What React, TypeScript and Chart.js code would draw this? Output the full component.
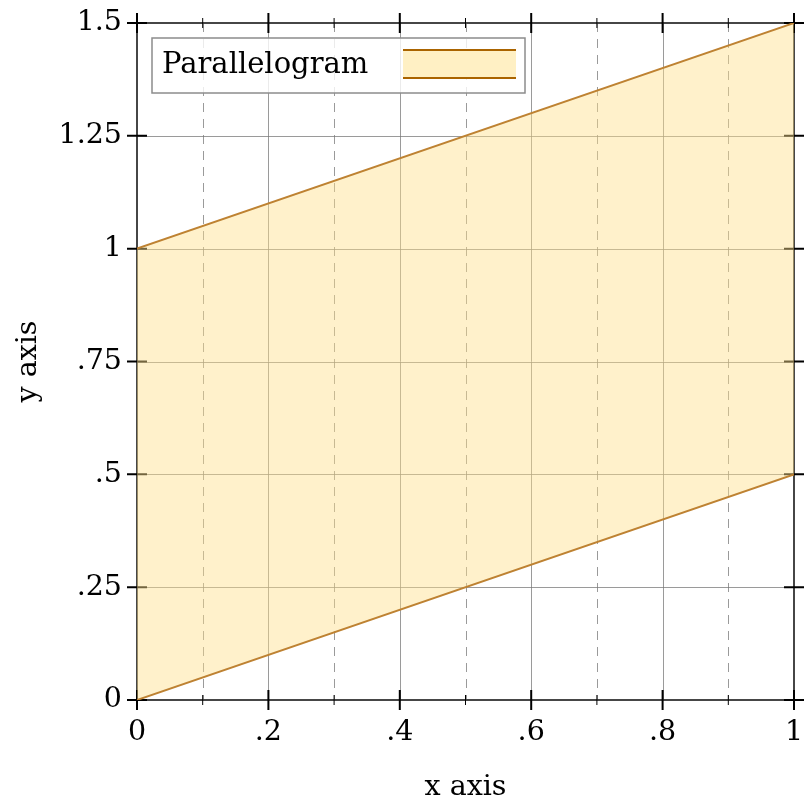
import React, { useEffect, useRef } from "react";
import { Chart, registerables } from "chart.js";

Chart.register(...registerables);

const xValues = [0, 1];
const lowerY = [0, 0.5];
const upperY = [1, 1.5];
const seriesLabel = "Parallelogram";
const xTitle = "x axis";
const yTitle = "y axis";

const FONT = "'DejaVu Serif', serif";

function fmt(v: number): string {
  const r = Math.round(v * 1000) / 1000;
  if (r === 0) return "0";
  let s = String(r);
  if (s.startsWith("0.")) s = s.slice(1);
  return s;
}

const framePlugin = {
  id: "framePlugin",
  beforeDatasetsDraw(chart: any) {
    const { ctx, chartArea, scales } = chart;
    const { left, right, top, bottom } = chartArea;
    const xs = scales.x;
    const ys = scales.y;
    ctx.save();
    // grid
    xs.ticks.forEach((t: any, i: number) => {
      const px = Math.round(xs.getPixelForValue(t.value)) + 0.5;
      if (Math.abs(t.value) < 1e-9 || Math.abs(t.value - 1) < 1e-9) return;
      ctx.beginPath();
      ctx.lineWidth = 1;
      if (i % 2 === 0) {
        ctx.setLineDash([]);
      } else {
        ctx.setLineDash([9, 7]);
      }
      ctx.strokeStyle = "rgba(120,120,120,0.75)";
      ctx.moveTo(px, top);
      ctx.lineTo(px, bottom);
      ctx.stroke();
    });
    ctx.setLineDash([]);
    ys.ticks.forEach((t: any) => {
      const py = Math.round(ys.getPixelForValue(t.value)) + 0.5;
      if (Math.abs(t.value) < 1e-9 || Math.abs(t.value - 1.5) < 1e-9) return;
      ctx.beginPath();
      ctx.lineWidth = 1;
      ctx.strokeStyle = "rgba(120,120,120,0.75)";
      ctx.moveTo(left, py);
      ctx.lineTo(right, py);
      ctx.stroke();
    });
    // frame
    ctx.strokeStyle = "rgb(70,70,70)";
    ctx.lineWidth = 2;
    ctx.strokeRect(left, top, right - left, bottom - top);
    // tick marks
    ctx.strokeStyle = "rgb(0,0,0)";
    xs.ticks.forEach((t: any, i: number) => {
      const px = xs.getPixelForValue(t.value);
      const len = i % 2 === 0 ? 10 : 5;
      ctx.lineWidth = i % 2 === 0 ? 2 : 1;
      ctx.beginPath();
      ctx.moveTo(px, bottom - len);
      ctx.lineTo(px, bottom + len);
      ctx.moveTo(px, top - len);
      ctx.lineTo(px, top + len);
      ctx.stroke();
    });
    ctx.lineWidth = 2;
    ys.ticks.forEach((t: any) => {
      const py = ys.getPixelForValue(t.value);
      ctx.beginPath();
      ctx.moveTo(left - 10, py);
      ctx.lineTo(left + 10, py);
      ctx.moveTo(right - 10, py);
      ctx.lineTo(right + 10, py);
      ctx.stroke();
    });
    ctx.restore();
  },
  afterDraw(chart: any) {
    const { ctx } = chart;
    ctx.save();
    const bx = 152, by = 38, bw = 373, bh = 55;
    ctx.fillStyle = "rgba(255,255,255,0.8)";
    ctx.fillRect(bx, by, bw, bh);
    ctx.strokeStyle = "rgb(140,140,140)";
    ctx.lineWidth = 1.5;
    ctx.strokeRect(bx, by, bw, bh);
    ctx.fillStyle = "#000";
    ctx.font = `29px ${FONT}`;
    ctx.textBaseline = "middle";
    ctx.textAlign = "left";
    ctx.fillText(seriesLabel, 162, 65);
    const sx = 403, sy = 50, sw = 113, sh = 28;
    ctx.fillStyle = "rgb(255,240,196)";
    ctx.fillRect(sx, sy, sw, sh);
    ctx.strokeStyle = "rgb(170,100,0)";
    ctx.lineWidth = 2;
    ctx.beginPath();
    ctx.moveTo(sx, sy);
    ctx.lineTo(sx + sw, sy);
    ctx.moveTo(sx, sy + sh);
    ctx.lineTo(sx + sw, sy + sh);
    ctx.stroke();
    ctx.restore();
  },
};

export default function App() {
  const ref = useRef<HTMLCanvasElement | null>(null);
  useEffect(() => {
    if (!ref.current) return;
    const lineColor = "rgb(190,130,50)";
    const chart = new Chart(ref.current, {
      type: "line",
      data: {
        datasets: [
          {
            label: "lower",
            data: xValues.map((x, i) => ({ x, y: lowerY[i] })),
            borderColor: lineColor,
            borderWidth: 2,
            pointRadius: 0,
            fill: false,
          },
          {
            label: seriesLabel,
            data: xValues.map((x, i) => ({ x, y: upperY[i] })),
            borderColor: lineColor,
            borderWidth: 2,
            pointRadius: 0,
            backgroundColor: "rgba(255,224,140,0.45)",
            fill: "-1",
          },
        ],
      },
      options: {
        responsive: false,
        animation: false,
        layout: { padding: { top: 23, right: 18, left: 0, bottom: 0 } },
        plugins: {
          legend: { display: false },
          tooltip: { enabled: false },
        },
        scales: {
          x: {
            type: "linear",
            min: 0,
            max: 1,
            grid: { display: false, drawTicks: false },
            border: { display: false },
            ticks: {
              stepSize: 0.1,
              autoSkip: false,
              maxRotation: 0,
              padding: 15,
              color: "#000",
              font: { family: FONT, size: 28.5 },
              callback: (v: any, i: number) => (i % 2 === 0 ? fmt(Number(v)) : ""),
            },
            title: {
              display: true,
              text: xTitle,
              color: "#000",
              font: { family: FONT, size: 28.5 },
              padding: { top: 0, bottom: 7 },
            },
            afterFit: (s: any) => {
              s.height = 112;
              s.paddingLeft = 0;
              s.paddingRight = 0;
            },
          },
          y: {
            type: "linear",
            min: 0,
            max: 1.5,
            grid: { display: false, drawTicks: false },
            border: { display: false },
            ticks: {
              stepSize: 0.25,
              autoSkip: false,
              padding: 15,
              color: "#000",
              font: { family: FONT, size: 28.5 },
              callback: (v: any) => fmt(Number(v)),
            },
            title: {
              display: true,
              text: yTitle,
              color: "#000",
              font: { family: FONT, size: 28.5 },
              padding: { top: 11, bottom: 0 },
            },
            afterFit: (s: any) => {
              s.width = 137;
              s.paddingTop = 0;
              s.paddingBottom = 0;
            },
          },
        },
      },
      plugins: [framePlugin],
    });
    return () => chart.destroy();
  }, []);
  return (
    <div style={{ position: "fixed", left: 0, top: 0, width: 812, height: 812, background: "#fff" }}>
      <canvas ref={ref} width={812} height={812} style={{ display: "block" }} />
    </div>
  );
}
